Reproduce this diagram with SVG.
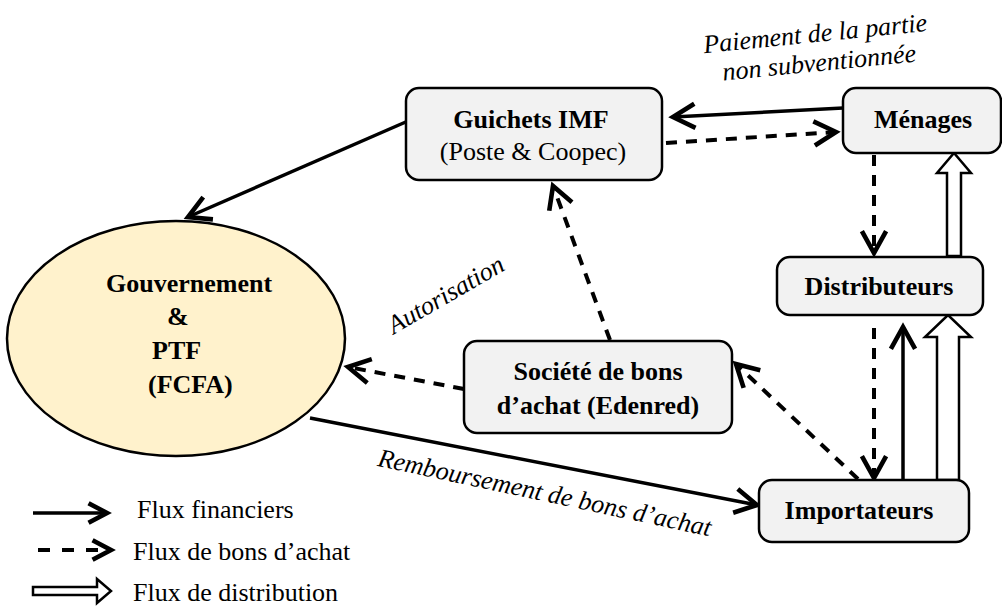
<svg xmlns="http://www.w3.org/2000/svg" width="1002" height="609" viewBox="0 0 1002 609">
<style>
  .box { fill: #f2f2f2; stroke: #000; stroke-width: 2.5; }
  .ell { fill: #fff2cc; stroke: #000; stroke-width: 2.5; }
  text { font-family: 'Liberation Serif', Tinos, 'Times New Roman', Times, 'DejaVu Serif', serif; font-size: 26px; fill: #000; }
  .lbl { font-weight: bold; }
  .it { font-style: italic; }
  .solid { fill: none; stroke: #000; stroke-width: 3.5; }
  .dash { fill: none; stroke: #000; stroke-width: 4; stroke-dasharray: 11 9; }
  .hollow { fill: #fff; stroke: #000; stroke-width: 2.5; stroke-linejoin: miter; }
</style>
<defs>
  <marker id="open" markerUnits="userSpaceOnUse" markerWidth="30" markerHeight="30" viewBox="-22 -13 26 26" refX="0" refY="0" orient="auto" overflow="visible">
    <path d="M-19,-10.5 L0,0 L-19,10.5" fill="none" stroke="#000" stroke-width="4" stroke-linejoin="miter"/>
  </marker>
  <marker id="openS" markerUnits="userSpaceOnUse" markerWidth="30" markerHeight="30" viewBox="-22 -13 26 26" refX="0" refY="0" orient="auto" overflow="visible">
    <path d="M-16,-8.5 L0,0 L-16,8.5" fill="none" stroke="#000" stroke-width="4" stroke-linejoin="miter"/>
  </marker>
</defs>

<g id="connectors">
  <line id="c-guichets-gouv" class="solid" x1="408" y1="121" x2="188" y2="217" marker-end="url(#open)"/>
  <line id="c-menages-guichets" class="solid" x1="843" y1="108" x2="673" y2="117" marker-end="url(#open)"/>
  <line id="c-guichets-menages" class="dash" x1="666" y1="143" x2="836" y2="132" marker-end="url(#open)"/>
  <line id="c-menages-distrib" class="dash" x1="874" y1="155" x2="874" y2="253" marker-end="url(#open)"/>
  <polygon id="c-distrib-menages" class="hollow" points="947,256 947,173 937,173 954,153 971,173 961,173 961,256"/>
  <line id="c-distrib-import" class="dash" x1="874" y1="328" x2="874" y2="478" marker-end="url(#open)"/>
  <line id="c-import-distrib" class="solid" x1="903" y1="479" x2="903" y2="327" marker-end="url(#open)"/>
  <polygon id="c-import-distrib-dist" class="hollow" points="937,480 937,337 925,337 948,315 971,337 959,337 959,480"/>
  <line id="c-import-societe" class="dash" x1="858" y1="479" x2="736" y2="364" marker-end="url(#open)"/>
  <line id="c-societe-guichets" class="dash" x1="610" y1="340" x2="553" y2="186" marker-end="url(#open)"/>
  <line id="c-societe-gouv" class="dash" x1="464" y1="389" x2="348" y2="367" marker-end="url(#open)"/>
  <line id="c-gouv-import" class="solid" x1="310" y1="418" x2="757" y2="505" marker-end="url(#open)"/>
</g>

<g id="node-gouvernement">
  <ellipse class="ell" cx="176" cy="338.5" rx="169" ry="117.5"/>
  <text class="lbl" x="106" y="292">Gouvernement</text>
  <text class="lbl" x="167" y="325">&amp;</text>
  <text class="lbl" x="152" y="359">PTF</text>
  <text class="lbl" x="148" y="393">(FCFA)</text>
</g>

<g id="node-guichets">
  <rect class="box" x="406" y="88" width="256" height="92" rx="13"/>
  <text class="lbl" x="531" y="128" text-anchor="middle">Guichets IMF</text>
  <text x="533" y="160" text-anchor="middle">(Poste &amp; Coopec)</text>
</g>

<g id="node-menages">
  <rect class="box" x="843" y="88" width="158" height="65" rx="13"/>
  <text class="lbl" x="923" y="128" text-anchor="middle">Ménages</text>
</g>

<g id="node-distributeurs">
  <rect class="box" x="777" y="257" width="206" height="58" rx="13"/>
  <text class="lbl" x="879" y="295" text-anchor="middle">Distributeurs</text>
</g>

<g id="node-societe">
  <rect class="box" x="464" y="341" width="268" height="92" rx="13"/>
  <text class="lbl" x="598" y="380" text-anchor="middle">Société de bons</text>
  <text class="lbl" x="598" y="414" text-anchor="middle">d’achat (Edenred)</text>
</g>

<g id="node-importateurs">
  <rect class="box" x="759" y="480" width="210" height="62" rx="13"/>
  <text class="lbl" x="859" y="519" text-anchor="middle">Importateurs</text>
</g>

<g id="edge-labels">
  <text class="it" x="816" y="42" text-anchor="middle" transform="rotate(-5.7 816 42)">Paiement de la partie</text>
  <text class="it" x="820" y="71" text-anchor="middle" transform="rotate(-5.6 820 71)">non subventionnée</text>
  <text class="it" x="450" y="302" text-anchor="middle" transform="rotate(-30 450 302)">Autorisation</text>
  <text class="it" x="543" y="501" text-anchor="middle" transform="rotate(12 543 501)">Remboursement de bons d’achat</text>
</g>

<g id="legend">
  <line class="solid" x1="33" y1="513" x2="107" y2="513" marker-end="url(#openS)"/>
  <text x="137" y="518">Flux financiers</text>
  <line x1="38" y1="550" x2="111" y2="550" stroke="#000" stroke-width="4" stroke-dasharray="12 12" marker-end="url(#openS)"/>
  <text x="133" y="560">Flux de bons d’achat</text>
  <polygon class="hollow" points="33,587 97,587 97,579 111,591 97,603 97,595 33,595"/>
  <text x="133" y="601">Flux de distribution</text>
</g>
</svg>
